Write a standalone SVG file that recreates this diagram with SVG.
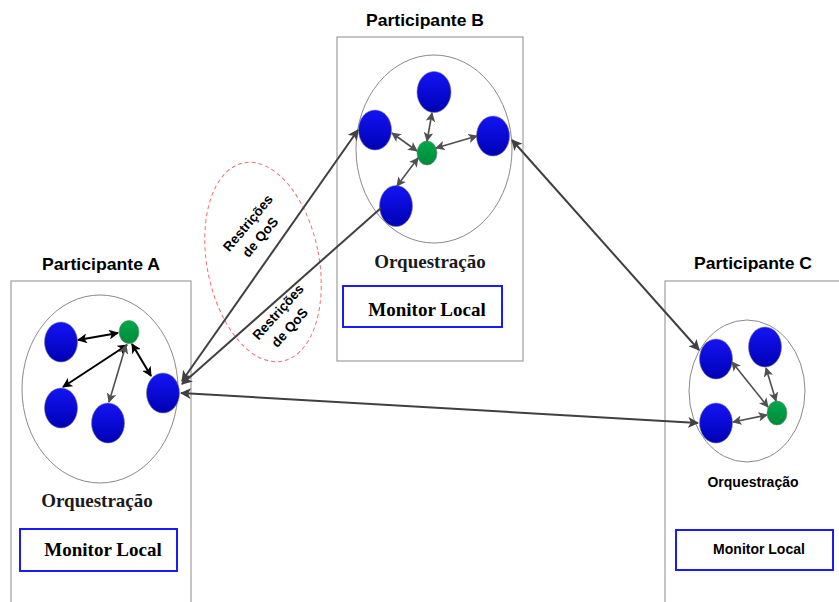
<svg xmlns="http://www.w3.org/2000/svg" width="839" height="602" viewBox="0 0 839 602">
<style>
.box{fill:#fff;stroke:#8c8c8c;stroke-width:1}
.orb{fill:none;stroke:#8a8a8a;stroke-width:1}
.blue{fill:url(#gb);stroke:#7a7a9a;stroke-width:0.6}
.green{fill:url(#gg);stroke:#5a8a6a;stroke-width:0.6}
.mon{fill:#fff;stroke:#1a1aff;stroke-width:2}
.title{font-family:"Liberation Sans",Arial,sans-serif;font-weight:bold;font-size:17px;fill:#000;text-anchor:middle}
.orq{font-family:"Liberation Serif","Times New Roman",serif;font-weight:bold;font-size:19px;fill:#1a1a1a;text-anchor:middle}
.monl{font-family:"Liberation Serif","Times New Roman",serif;font-weight:bold;font-size:19px;fill:#000;text-anchor:middle}
.sans{font-family:"Liberation Sans",Arial,sans-serif;font-weight:bold;font-size:14px;fill:#000;text-anchor:middle}
.qos{font-family:"Liberation Sans",Arial,sans-serif;font-weight:bold;font-size:13.5px;fill:#000;text-anchor:middle}
.c{fill:none;stroke:#404040;stroke-width:2}
.k{fill:none;stroke:#000;stroke-width:2}
.g{fill:none;stroke:#505050;stroke-width:1.6}
</style>
<defs>
<linearGradient id="gb" x1="0" y1="0" x2="0" y2="1">
<stop offset="0" stop-color="#1414f5"/>
<stop offset="1" stop-color="#0000b4"/>
</linearGradient>
<linearGradient id="gg" x1="0" y1="0" x2="0" y2="1">
<stop offset="0" stop-color="#00a84a"/>
<stop offset="1" stop-color="#008a3a"/>
</linearGradient>
<marker id="ag" viewBox="0 0 10 10" refX="9" refY="5" markerWidth="5.5" markerHeight="5.5" orient="auto-start-reverse" markerUnits="strokeWidth">
<path d="M0,0 L10,5 L0,10 L2.5,5 z" fill="#404040"/>
</marker>
<marker id="ak" viewBox="0 0 10 10" refX="9" refY="5" markerWidth="5" markerHeight="5" orient="auto-start-reverse" markerUnits="strokeWidth">
<path d="M0,0 L10,5 L0,10 L2.5,5 z" fill="#000"/>
</marker>
<marker id="as" viewBox="0 0 10 10" refX="9" refY="5" markerWidth="6" markerHeight="6" orient="auto-start-reverse" markerUnits="strokeWidth">
<path d="M0,0 L10,5 L0,10 L2.5,5 z" fill="#505050"/>
</marker>
</defs>

<g id="participanteA">
<text class="title" x="101" y="270" textLength="118" lengthAdjust="spacingAndGlyphs">Participante A</text>
<rect class="box" x="11" y="281" width="180" height="330"/>
<ellipse class="orb" cx="100" cy="389" rx="78" ry="94"/>
<ellipse class="blue" cx="61" cy="342" rx="16.5" ry="20"/>
<ellipse class="green" cx="129" cy="332" rx="10" ry="11.5"/>
<ellipse class="blue" cx="61" cy="408" rx="16.5" ry="20"/>
<ellipse class="blue" cx="108" cy="423" rx="16.5" ry="20"/>
<ellipse class="blue" cx="163" cy="393" rx="16.5" ry="20"/>
<text class="orq" x="97" y="507">Orquestração</text>
<rect class="mon" x="20" y="529" width="157" height="42"/>
<text class="monl" x="103" y="556">Monitor Local</text>
</g>

<g id="participanteB">
<text class="title" x="425" y="26" textLength="118" lengthAdjust="spacingAndGlyphs">Participante B</text>
<rect class="box" x="337" y="37" width="186" height="324"/>
<ellipse class="orb" cx="434" cy="149" rx="78" ry="94"/>
<ellipse class="blue" cx="434" cy="92" rx="17" ry="20.5"/>
<ellipse class="blue" cx="375" cy="130" rx="16.5" ry="20"/>
<ellipse class="blue" cx="493" cy="136" rx="16.5" ry="20"/>
<ellipse class="green" cx="427" cy="153" rx="10" ry="12"/>
<ellipse class="blue" cx="396" cy="206" rx="16.5" ry="20.5"/>
<text class="orq" x="430" y="268">Orquestração</text>
<rect class="mon" x="343" y="286" width="159" height="41"/>
<text class="monl" x="427" y="316">Monitor Local</text>
</g>

<g id="participanteC">
<text class="title" x="753" y="269" textLength="118" lengthAdjust="spacingAndGlyphs">Participante C</text>
<rect class="box" x="665" y="281" width="180" height="330"/>
<ellipse class="orb" cx="747" cy="391" rx="58" ry="71"/>
<ellipse class="blue" cx="716" cy="359" rx="16.5" ry="20"/>
<ellipse class="blue" cx="765" cy="347" rx="16.5" ry="20"/>
<ellipse class="blue" cx="716" cy="423" rx="16.5" ry="20"/>
<ellipse class="green" cx="777" cy="413" rx="10" ry="12"/>
<text class="sans" x="753" y="487">Orquestração</text>
<rect class="mon" x="676" y="530" width="157" height="40"/>
<text class="sans" x="759" y="554">Monitor Local</text>
</g>

<g id="qos">
<ellipse cx="263" cy="262" rx="56" ry="101" transform="rotate(-11 263 262)" fill="none" stroke="#f07070" stroke-width="1" stroke-dasharray="4,3"/>
<g transform="translate(251.5,226) rotate(-50)">
<text class="qos" x="0" y="0">Restrições</text>
<text class="qos" x="-3" y="18.5">de QoS</text>
</g>
<g transform="translate(281.5,315) rotate(-48)">
<text class="qos" x="0" y="0">Restrições</text>
<text class="qos" x="-4" y="19">de QoS</text>
</g>
</g>

<g id="connectors">
<line class="c" x1="182" y1="381" x2="358" y2="130" marker-start="url(#ag)" marker-end="url(#ag)"/>
<line class="c" x1="381" y1="208" x2="182" y2="384" marker-end="url(#ag)"/>
<line class="c" x1="181" y1="393" x2="698" y2="423" marker-start="url(#ag)" marker-end="url(#ag)"/>
<line class="c" x1="512" y1="140" x2="699" y2="350" marker-start="url(#ag)" marker-end="url(#ag)"/>

<line class="k" x1="78" y1="340" x2="118" y2="333" marker-start="url(#ak)" marker-end="url(#ak)"/>
<line class="k" x1="127" y1="345" x2="63" y2="387" marker-start="url(#ak)" marker-end="url(#ak)"/>
<line class="g" x1="126" y1="345" x2="109" y2="402" marker-start="url(#as)" marker-end="url(#as)"/>
<line class="k" x1="132" y1="344" x2="151" y2="376" marker-start="url(#ak)" marker-end="url(#ak)"/>

<line class="g" x1="432" y1="113" x2="427" y2="141" marker-start="url(#as)" marker-end="url(#as)"/>
<line class="g" x1="392" y1="133" x2="417" y2="151" marker-start="url(#as)" marker-end="url(#as)"/>
<line class="g" x1="477" y1="136" x2="436" y2="148" marker-start="url(#as)" marker-end="url(#as)"/>
<line class="g" x1="397" y1="186" x2="418" y2="158" marker-start="url(#as)" marker-end="url(#as)"/>

<line class="g" x1="732" y1="362" x2="768" y2="407" marker-start="url(#as)" marker-end="url(#as)"/>
<line class="g" x1="766" y1="368" x2="776" y2="401" marker-start="url(#as)" marker-end="url(#as)"/>
<line class="g" x1="733" y1="422" x2="767" y2="415" marker-start="url(#as)" marker-end="url(#as)"/>
</g>
</svg>
